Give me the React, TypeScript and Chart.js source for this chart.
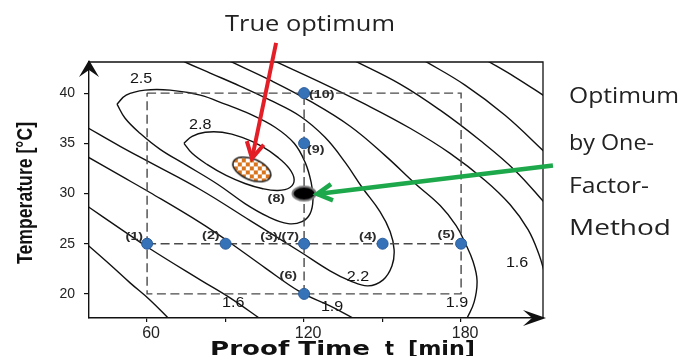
import React, { useEffect, useRef } from 'react';
import { Chart, registerables } from 'chart.js';

Chart.register(...registerables);

// ---------- axes ----------
const xMin = 37.8;
const xMax = 211.3;
const yMin = 17.6;
const yMax = 43.1;
const xTicks = [60, 90, 120, 150, 180];
const xTickLabels = ['60', '', '120', '', '180'];
const yTicks = [20, 25, 30, 35, 40];
const yTickLabels = ['20', '25', '30', '35', '40'];

// ---------- experimental runs (one-factor method) ----------
const runTime = [60, 90, 120, 150, 180, 120, 120, 120];
const runTemp = [25, 25, 25, 25, 25, 20, 35, 40];
const runLabels = ['(1)', '(2)', '(3)/(7)', '(4)', '(5)', '(6)', '(9)', '(10)'];

const oneFactorTime = [120];
const oneFactorTemp = [30];
const oneFactorLabel = ['(8)'];

const trueOptTime = [100];
const trueOptTemp = [32.4];

// ---------- dashed design region ----------
const boxTime = [60, 180, 180, 60, 60];
const boxTemp = [40, 40, 20, 20, 40];
const hLineTime = [60, 180];
const hLineTemp = [25, 25];
const vLineTime = [120, 120];
const vLineTemp = [20, 40];

// ---------- contour lines [time, temperature] ----------
const contour28: [number, number][] = [[74.1,35.0],[77.2,35.7],[82.2,36.1],[88.7,36.1],[96.3,35.6],[103.9,34.7],[110.0,33.6],[114.3,32.5],[116.2,31.4],[114.6,30.6],[110.0,30.3],[103.9,30.5],[97.4,31.0],[90.2,31.8],[82.9,32.9],[77.2,34.0],[74.1,35.0]];
const contour25: [number, number][] = [[48.5,38.9],[52.0,39.8],[59.2,40.3],[68.8,40.3],[80.3,39.8],[89.8,38.9],[99.4,37.9],[108.9,36.6],[116.2,35.0],[120.4,33.1],[122.7,31.1],[123.4,29.4],[122.3,28.0],[119.2,27.2],[113.9,27.0],[106.2,27.7],[97.4,29.0],[87.1,30.9],[74.5,32.9],[65.0,34.4],[57.3,36.0],[51.6,37.5],[48.5,38.9]];
const contour22: [number, number][] = [[36.3,36.7],[49.7,34.7],[61.1,33.1],[80.3,30.4],[99.4,27.3],[118.5,24.2],[129.9,22.3],[137.6,21.3],[144.4,20.8],[150.2,21.4],[153.6,22.8],[154.4,24.4],[152.9,26.2],[149.0,28.2],[142.2,30.6],[135.7,33.1],[128.0,35.6],[118.5,37.7],[107.0,39.3],[95.5,40.7],[84.1,42.0],[74.5,43.1],[71.8,43.5]];
const contour19Low: [number, number][] = [[36.3,33.8],[49.7,31.8],[61.1,30.1],[80.3,27.1],[91.7,25.1],[105.1,22.6],[118.5,20.2],[129.9,18.8],[138.7,17.6],[143.3,17.0]];
const contour19High: [number, number][] = [[90.7,43.3],[107.0,41.3],[122.3,39.2],[137.6,36.7],[150.9,33.8],[162.4,31.0],[172.0,28.8],[178.1,26.8],[181.5,25.1],[184.6,23.2],[186.1,21.3],[185.0,19.2],[182.3,17.6],[181.5,17.2]];
const contour16Low: [number, number][] = [[36.3,28.9],[49.7,26.5],[61.1,24.5],[80.3,21.4],[91.7,19.6],[103.9,17.4]];
const contour16High: [number, number][] = [[107.8,43.3],[126.1,41.1],[143.3,38.9],[160.5,36.5],[175.8,34.0],[189.2,31.3],[198.7,28.9],[205.6,26.4],[209.8,23.9],[212.1,21.9]];
const contour13Low: [number, number][] = [[36.3,25.1],[45.9,22.9],[53.5,21.1],[61.1,19.4],[68.8,17.4]];
const contour13High: [number, number][] = [[138.7,43.3],[156.7,40.9],[172.0,38.3],[187.2,35.3],[200.6,32.3],[212.5,28.9]];
const contour10: [number, number][] = [[165.5,43.3],[181.5,40.8],[196.8,37.8],[212.5,34.0]];
const contour07: [number, number][] = [[189.5,43.3],[200.6,41.6],[212.5,39.6]];

const contourLabelText = ['2.5', '2.8', '2.2', '1.9', '1.9', '1.6', '1.6'];
const contourLabelTime = [57.7, 80.3, 140.6, 130.7, 178.4, 92.9, 201.4];
const contourLabelTemp = [41.4, 36.8, 21.7, 18.7, 19.1, 19.1, 23.1];

// ---------- annotation arrows (from -> to) ----------
const redArrowTime = [109.3, 100.1];
const redArrowTemp = [45.0, 33.5];
const greenArrowTime = [215.1, 125.0];
const greenArrowTemp = [32.8, 29.95];

const titleTrue = 'True optimum';
const oneFactorText = ['Optimum', 'by One-', 'Factor-', 'Method'];
const xTitleParts = ['Proof Time', 't', '[min]'];
const yTitle = 'Temperature [°C]';

const zip = (xs: number[], ys: number[]) => xs.map((x, i) => ({ x, y: ys[i] }));
const pts = (p: [number, number][]) => p.map(([x, y]) => ({ x, y }));

function makeChecker(): HTMLCanvasElement {
  const c = document.createElement('canvas');
  c.width = 44; c.height = 30;
  const g = c.getContext('2d')!;
  g.save();
  g.translate(22, 15);
  g.rotate((22 * Math.PI) / 180);
  g.beginPath();
  g.ellipse(0, 0, 20, 10.5, 0, 0, Math.PI * 2);
  g.restore();
  g.save();
  g.clip();
  g.fillStyle = '#ffffff';
  g.fillRect(0, 0, 44, 30);
  g.fillStyle = '#d8731e';
  for (let i = 0; i < 12; i++) for (let j = 0; j < 8; j++) if ((i + j) % 2 === 0) g.fillRect(i * 4, j * 4, 4, 4);
  g.restore();
  g.lineWidth = 1.5;
  g.strokeStyle = '#222';
  g.stroke();
  return c;
}

function makeBlack(): HTMLCanvasElement {
  const c = document.createElement('canvas');
  c.width = 28; c.height = 18;
  const g = c.getContext('2d')!;
  g.beginPath();
  g.ellipse(14, 9, 11.5, 7, 0, 0, Math.PI * 2);
  g.fillStyle = '#000';
  g.fill();
  g.lineWidth = 2;
  g.strokeStyle = '#7a7a7a';
  g.stroke();
  return c;
}

function scaledText(ctx: CanvasRenderingContext2D, text: string, x: number, y: number, sx: number, align: string) {
  const w = ctx.measureText(text).width * sx;
  const left = align === 'right' ? x - w : align === 'center' ? x - w / 2 : x;
  ctx.save();
  ctx.translate(left, y);
  ctx.scale(sx, 1);
  ctx.textAlign = 'left';
  ctx.fillText(text, 0, 0);
  ctx.restore();
}

function fitText(ctx: CanvasRenderingContext2D, text: string, left: number, y: number, width: number) {
  const w = ctx.measureText(text).width;
  ctx.save();
  ctx.translate(left, y);
  ctx.scale(width / w, 1);
  ctx.textAlign = 'left';
  ctx.fillText(text, 0, 0);
  ctx.restore();
}

function drawArrow(ctx: CanvasRenderingContext2D, x0: number, y0: number, x1: number, y1: number, color: string, w: number, head: number) {
  ctx.save();
  ctx.strokeStyle = color;
  ctx.lineWidth = w;
  ctx.lineJoin = 'miter';
  ctx.lineCap = 'butt';
  ctx.beginPath();
  ctx.moveTo(x0, y0);
  ctx.lineTo(x1, y1);
  ctx.stroke();
  const ang = Math.atan2(y1 - y0, x1 - x0);
  const a = 0.5;
  ctx.beginPath();
  ctx.moveTo(x1 - head * Math.cos(ang - a), y1 - head * Math.sin(ang - a));
  ctx.lineTo(x1, y1);
  ctx.lineTo(x1 - head * Math.cos(ang + a), y1 - head * Math.sin(ang + a));
  ctx.stroke();
  ctx.restore();
}

const runLabelPlace: [number, number, string][] = [
  [-4, -7, 'right'],
  [-6, -8, 'right'],
  [-5, -7, 'right'],
  [-6, -7, 'right'],
  [-6, -9, 'right'],
  [-7, -18, 'right'],
  [3, 7, 'left'],
  [5, 2, 'left'],
];

const annotPlugin = {
  id: 'annot',
  afterDraw(chart: any) {
    const { ctx, chartArea: a, scales } = chart;
    const xs = scales.x;
    const ys = scales.y;
    ctx.save();
    // frame top & right
    ctx.strokeStyle = '#111';
    ctx.lineWidth = 1.3;
    ctx.beginPath();
    ctx.moveTo(a.left, a.top);
    ctx.lineTo(a.right, a.top);
    ctx.lineTo(a.right, a.bottom);
    ctx.stroke();
    // axis arrowheads
    ctx.fillStyle = '#111';
    ctx.beginPath();
    ctx.moveTo(a.left, a.top - 2);
    ctx.lineTo(a.left - 10, a.top + 15);
    ctx.lineTo(a.left, a.top + 8);
    ctx.lineTo(a.left + 10, a.top + 15);
    ctx.closePath();
    ctx.fill();
    ctx.beginPath();
    ctx.moveTo(a.right + 3, a.bottom);
    ctx.lineTo(a.right - 20, a.bottom - 8);
    ctx.lineTo(a.right - 11, a.bottom);
    ctx.lineTo(a.right - 20, a.bottom + 8);
    ctx.closePath();
    ctx.fill();

    // contour labels
    ctx.fillStyle = '#151515';
    ctx.font = "14px 'Liberation Sans', Arial, sans-serif";
    ctx.textBaseline = 'middle';
    contourLabelText.forEach((t, i) => {
      scaledText(ctx, t, xs.getPixelForValue(contourLabelTime[i]), ys.getPixelForValue(contourLabelTemp[i]), 1.15, 'center');
    });

    // run labels
    ctx.fillStyle = '#2b2b2b';
    ctx.font = "bold 11px 'Liberation Sans', Arial, sans-serif";
    runLabels.forEach((t, i) => {
      const [dx, dy, al] = runLabelPlace[i];
      scaledText(ctx, t, xs.getPixelForValue(runTime[i]) + dx, ys.getPixelForValue(runTemp[i]) + dy, 1.3, al);
    });
    oneFactorLabel.forEach((t, i) => {
      scaledText(ctx, t, xs.getPixelForValue(oneFactorTime[i]) - 19, ys.getPixelForValue(oneFactorTemp[i]) + 5, 1.3, 'right');
    });

    // arrows
    drawArrow(ctx, xs.getPixelForValue(redArrowTime[0]), ys.getPixelForValue(redArrowTemp[0]),
      xs.getPixelForValue(redArrowTime[1]), ys.getPixelForValue(redArrowTemp[1]), '#e31e26', 4, 18);
    drawArrow(ctx, xs.getPixelForValue(greenArrowTime[0]), ys.getPixelForValue(greenArrowTemp[0]),
      xs.getPixelForValue(greenArrowTime[1]), ys.getPixelForValue(greenArrowTemp[1]), '#1ea84c', 4.5, 17);

    // annotation texts
    ctx.textBaseline = 'alphabetic';
    ctx.fillStyle = '#222';
    ctx.font = "21px 'Open Sans', sans-serif";
    fitText(ctx, titleTrue, 225, 31, 170);
    ctx.font = "22px 'Open Sans', sans-serif";
    const widths = [110, 85, 80, 102];
    const bases = [103, 150, 193, 235];
    oneFactorText.forEach((t, i) => fitText(ctx, t, 569, bases[i], widths[i]));

    // axis titles
    ctx.fillStyle = '#111';
    ctx.font = "bold 19px 'DejaVu Sans', sans-serif";
    fitText(ctx, xTitleParts[0], 210, 355, 160);
    fitText(ctx, xTitleParts[1], 385, 355, 9);
    fitText(ctx, xTitleParts[2], 408, 355, 67);

    ctx.save();
    ctx.translate(32, 264);
    ctx.rotate(-Math.PI / 2);
    ctx.font = "bold 22px 'Liberation Sans', Arial, sans-serif";
    fitText(ctx, yTitle, 0, 0, 142);
    ctx.restore();

    ctx.restore();
  },
};

export default function App() {
  const ref = useRef<HTMLCanvasElement | null>(null);

  useEffect(() => {
    if (!ref.current) return;
    const checker = makeChecker();
    const black = makeBlack();
    const contourStyle = {
      showLine: true,
      borderColor: '#111',
      borderWidth: 1.4,
      pointRadius: 0,
      tension: 0.4,
      fill: false,
    };
    const dashStyle = {
      showLine: true,
      borderColor: '#4a4a4a',
      borderWidth: 1.4,
      borderDash: [9, 4.5],
      pointRadius: 0,
      tension: 0,
      fill: false,
    };
    const contours = [contour28, contour25, contour22, contour19Low, contour19High, contour16Low, contour16High,
      contour13Low, contour13High, contour10, contour07];

    const chart = new Chart(ref.current, {
      type: 'scatter',
      data: {
        datasets: [
          {
            label: 'true optimum',
            data: zip(trueOptTime, trueOptTemp),
            pointStyle: checker as any,
            pointRadius: 12,
            showLine: false,
          },
          {
            label: 'one-factor optimum',
            data: zip(oneFactorTime, oneFactorTemp),
            pointStyle: black as any,
            pointRadius: 12,
            showLine: false,
          },
          {
            label: 'runs',
            data: zip(runTime, runTemp),
            pointRadius: 5.5,
            pointBackgroundColor: '#3672b8',
            pointBorderColor: '#2b5d9c',
            pointBorderWidth: 1,
            showLine: false,
          },
          { label: 'box', data: zip(boxTime, boxTemp), ...dashStyle },
          { label: 'h', data: zip(hLineTime, hLineTemp), ...dashStyle },
          { label: 'v', data: zip(vLineTime, vLineTemp), ...dashStyle },
          ...contours.map((c, i) => ({ label: 'contour' + i, data: pts(c), ...contourStyle })),
        ] as any,
      },
      options: {
        animation: false,
        responsive: false,
        maintainAspectRatio: false,
        events: [],
        layout: { padding: { top: 62, right: 140, left: 0, bottom: 0 } },
        plugins: { legend: { display: false }, tooltip: { enabled: false }, title: { display: false } },
        scales: {
          x: {
            type: 'linear',
            min: xMin,
            max: xMax,
            afterFit: (s: any) => { s.height = 38; },
            afterBuildTicks: (s: any) => { s.ticks = xTicks.map((v) => ({ value: v })); },
            ticks: {
              callback: (v: any) => { const i = xTicks.indexOf(Number(v)); return i >= 0 ? xTickLabels[i] : ''; },
              font: { family: "'Liberation Sans', Arial, sans-serif", size: 16 },
              color: '#222',
              padding: 2,
              maxRotation: 0,
              autoSkip: false,
              labelOffset: 4,
            },
            grid: { display: true, drawOnChartArea: false, drawTicks: true, tickLength: 4, color: '#111', lineWidth: 1.2 },
            border: { display: true, color: '#111', width: 1.4 },
          },
          y: {
            type: 'linear',
            min: yMin,
            max: yMax,
            afterFit: (s: any) => { s.width = 89; },
            afterBuildTicks: (s: any) => { s.ticks = yTicks.map((v) => ({ value: v })); },
            ticks: {
              callback: (v: any) => { const i = yTicks.indexOf(Number(v)); return i >= 0 ? yTickLabels[i] : ''; },
              font: { family: "'Liberation Sans', Arial, sans-serif", size: 14 },
              color: '#222',
              padding: 9,
              autoSkip: false,
            },
            grid: { display: true, drawOnChartArea: false, drawTicks: true, tickLength: 5, color: '#111', lineWidth: 1.2 },
            border: { display: true, color: '#111', width: 1.4 },
          },
        },
      } as any,
      plugins: [annotPlugin],
    });
    return () => chart.destroy();
  }, []);

  return (
    <div style={{ position: 'fixed', left: 0, top: 0, width: 683, height: 356, background: '#fff' }}>
      <canvas ref={ref} width={683} height={356} style={{ display: 'block', width: 683, height: 356 }} />
    </div>
  );
}
